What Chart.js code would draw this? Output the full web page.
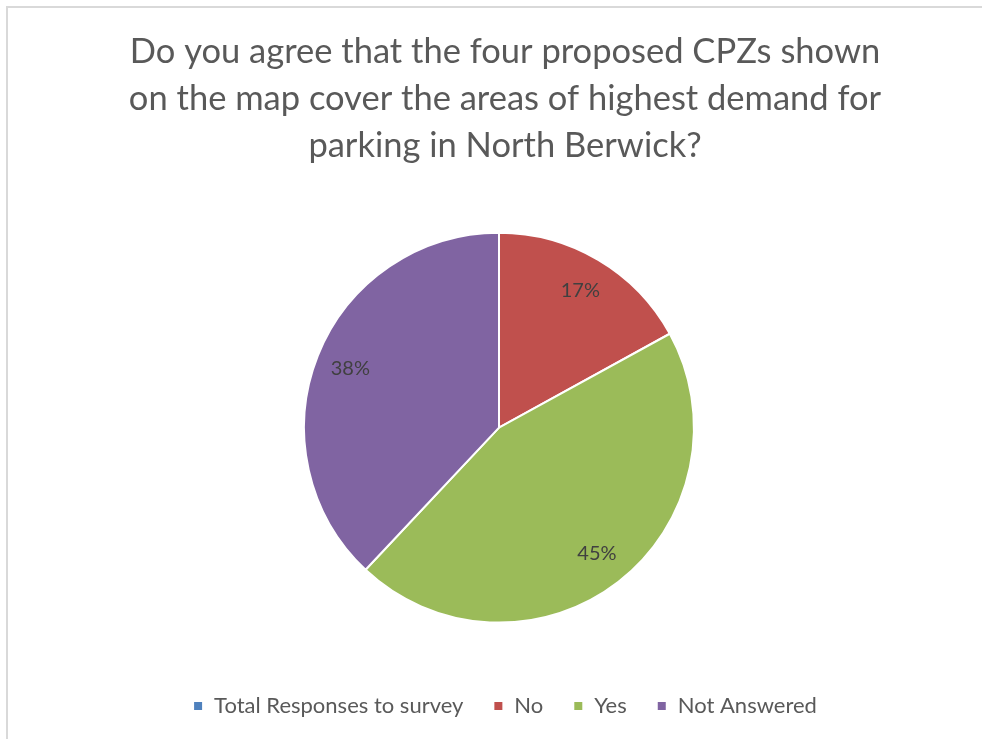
<!DOCTYPE html>
<html>
<head>
<meta charset="utf-8">
<script src="https://cdn.jsdelivr.net/npm/chart.js@4/dist/chart.umd.min.js"></script>
<style>
  html, body { margin: 0; padding: 0; background: #ffffff; }
  #frame {
    position: absolute; left: 6px; top: 6px;
    width: 1100px; height: 900px;
    border-left: 2px solid #d9d9d9; border-top: 2px solid #d9d9d9;
    box-sizing: border-box;
  }
  #wrap { position: absolute; left: 0; top: 0; width: 982px; height: 739px; }
</style>
</head>
<body>
<div id="frame"></div>
<div id="wrap"><canvas id="chart" width="982" height="739"></canvas></div>
<script>
// Survey answers, in percent of responses
const categories = ['Total Responses to survey', 'No', 'Yes', 'Not Answered'];
const shares = [0, 17, 45, 38];
const sliceColours = ['#4f81bd', '#c0504d', '#9bbb59', '#8064a2'];
const titleLines = [
  'Do you agree that the four proposed CPZs shown',
  'on the map cover the areas of highest demand for',
  'parking in North Berwick?'
];

const FONT = 'Lato, "Open Sans", "DejaVu Sans", sans-serif';

// Empty strip on the right of the plot area, so the pie sits a little left of the title
const rightGutter = {
  id: 'rightGutter',
  beforeInit(chart) {
    Chart.layouts.addBox(chart, {
      position: 'right',
      fullSize: false,
      weight: 0,
      options: {},
      width: 0,
      height: 0,
      isHorizontal() { return false; },
      update(maxWidth, maxHeight) { this.width = 12; this.height = maxHeight; },
      draw() {}
    });
  }
};

// Percentage labels placed inside each slice
const sliceLabels = {
  id: 'sliceLabels',
  afterDatasetsDraw(chart) {
    const ctx = chart.ctx;
    const meta = chart.getDatasetMeta(0);
    ctx.save();
    ctx.font = '20px ' + FONT;
    ctx.fillStyle = '#404040';
    ctx.textAlign = 'center';
    ctx.textBaseline = 'middle';
    meta.data.forEach((arc, i) => {
      const v = shares[i];
      if (!v) return;
      const p = arc.getProps(['x', 'y', 'startAngle', 'endAngle', 'outerRadius'], true);
      const mid = (p.startAngle + p.endAngle) / 2;
      const r = p.outerRadius * 0.82;
      ctx.fillText(v + '%', p.x + Math.cos(mid) * r, p.y + Math.sin(mid) * r);
    });
    ctx.restore();
  }
};

new Chart(document.getElementById('chart'), {
  type: 'pie',
  data: {
    labels: categories,
    datasets: [{
      data: shares,
      backgroundColor: sliceColours,
      borderColor: '#ffffff',
      borderWidth: 2
    }]
  },
  options: {
    responsive: false,
    animation: false,
    layout: { padding: { top: 29, bottom: 12, left: 28, right: 0 } },
    plugins: {
      tooltip: { enabled: false },
      title: {
        display: true,
        text: titleLines,
        color: '#595959',
        font: { family: FONT, size: 34.5, weight: 'normal', lineHeight: 1.35 },
        padding: { top: 0, bottom: 63 }
      },
      legend: {
        position: 'bottom',
        title: { display: true, text: ' ', font: { size: 12 }, padding: { top: 27, bottom: 0 } },
        labels: {
          color: '#595959',
          font: { family: FONT, size: 22 },
          usePointStyle: true,
          pointStyle: 'rect',
          boxWidth: 10,
          boxHeight: 10,
          padding: 30
        }
      }
    }
  },
  plugins: [rightGutter, sliceLabels]
});
</script>
</body>
</html>
